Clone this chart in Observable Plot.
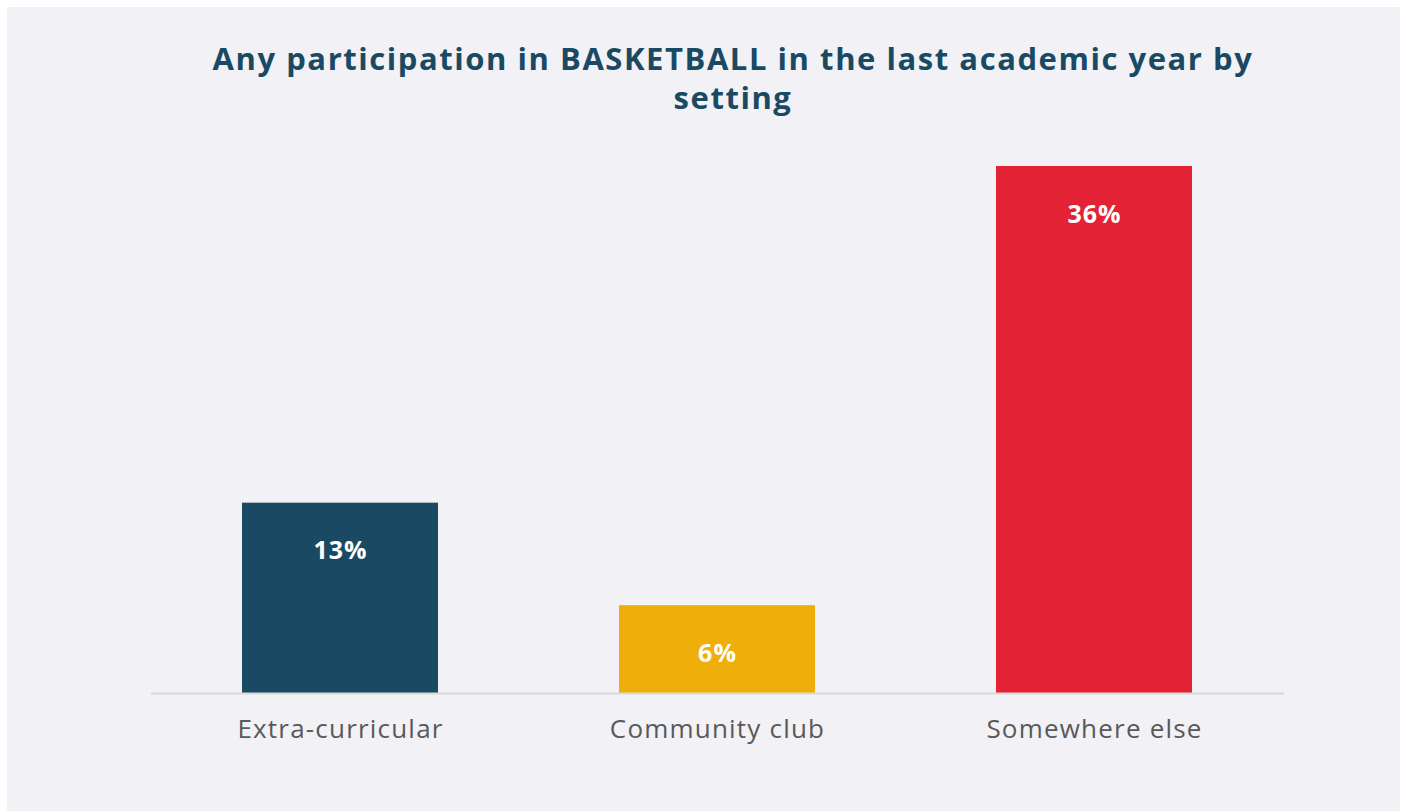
<!DOCTYPE html>
<html>
<head>
<meta charset="utf-8">
<script src="https://cdn.jsdelivr.net/npm/d3@7"></script>
<script src="https://cdn.jsdelivr.net/npm/@observablehq/plot@0.6"></script>
<style>
  html, body { margin: 0; padding: 0; background: #ffffff; }
  #panel {
    position: absolute; left: 7px; top: 7px; width: 1393px; height: 804px;
    background: #f1f1f6; overflow: hidden;
    font-family: "Open Sans", "Noto Sans", sans-serif;
  }
  #title {
    position: absolute; left: 0; width: 1452px; top: 32px;
    text-align: center; color: #1a4a63; font-weight: 700;
    font-size: 31px; line-height: 39px; letter-spacing: 1.55px;
  }
  #chart { position: absolute; left: 0; top: 123px; }
  #chart g[aria-label="x-axis tick label"] text { letter-spacing: 1.2px; }
  #chart g[aria-label="text"] text { letter-spacing: 1px; }
</style>
</head>
<body>
<div id="panel">
  <div id="title">Any participation in BASKETBALL in the last academic year by<br>setting</div>
  <div id="chart"></div>
</div>
<script>
const categories = ["Extra-curricular", "Community club", "Somewhere else"];
const values = [13, 6, 36];
const colors = ["#1a4a63", "#f0ae0a", "#e32335"];
const valueLabels = ["13%", "6%", "36%"];

const data = categories.map((c, i) => ({category: c, value: values[i], label: valueLabels[i], color: colors[i]}));

const chart = Plot.plot({
  width: 1393,
  height: 681,
  marginTop: 36,
  marginBottom: 118,
  marginLeft: 144,
  marginRight: 116,
  style: {background: "transparent", fontFamily: "'Open Sans', 'Noto Sans', sans-serif"},
  x: {domain: categories, paddingInner: 0.48, paddingOuter: 0.24, label: null},
  y: {domain: [0, 36], axis: null},
  marks: [
    Plot.barY(data, {x: "category", y: "value", fill: "color"}),
    Plot.ruleY([0], {stroke: "#d9d9d9", strokeWidth: 2}),
    Plot.text(data, {x: "category", y: "value", text: "label", dy: 48, fill: "#ffffff",
      fontSize: 25, fontWeight: 700, lineAnchor: "middle"}),
    Plot.axisX({tickSize: 0, tickPadding: 26, fontSize: 26, color: "#595959", fill: "#595959", label: null})
  ]
});
document.getElementById("chart").appendChild(chart);
</script>
</body>
</html>
